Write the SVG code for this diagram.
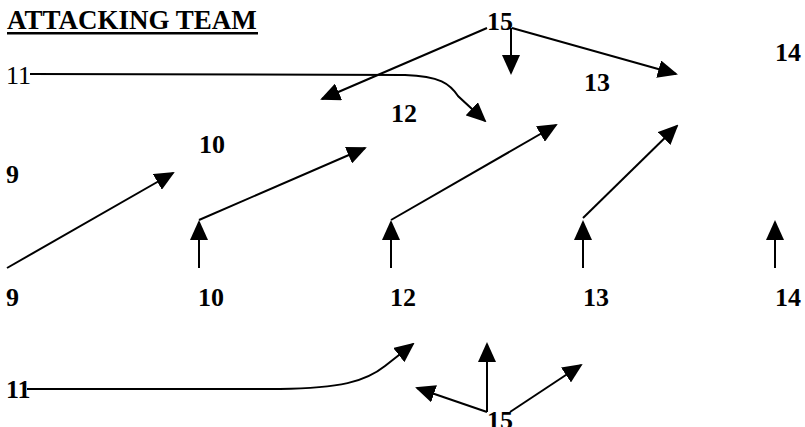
<svg xmlns="http://www.w3.org/2000/svg" width="805" height="427" viewBox="0 0 805 427">
<style>
.t{font-family:"Liberation Serif","Times New Roman",serif;font-size:26px;font-weight:bold;fill:#000}
.r{font-weight:normal}
.c{fill:none;stroke:#000;stroke-width:2}
.a{marker-end:url(#ah)}
</style>
<defs>
<marker id="ah" viewBox="0 0 20 18" markerWidth="20" markerHeight="18" refX="18" refY="9" orient="auto" markerUnits="userSpaceOnUse">
<path d="M0,0 L20,9 L0,18 z" fill="#000"/>
</marker>
</defs>
<rect width="805" height="427" fill="#fff"/>
<g id="title">
<text class="t" x="7" y="29" style="font-size:27px">ATTACKING TEAM</text>
<rect x="7" y="32" width="251" height="2.5" fill="#000"/>
</g>
<g id="top-11"><text class="t r" x="6" y="84">11</text></g>
<g id="top-15"><text class="t" x="487" y="30">15</text></g>
<g id="top-14"><text class="t" x="775" y="61">14</text></g>
<g id="top-13"><text class="t" x="584" y="91">13</text></g>
<g id="top-12"><text class="t" x="391" y="122">12</text></g>
<g id="top-10"><text class="t" x="199" y="153">10</text></g>
<g id="top-9"><text class="t" x="6" y="183">9</text></g>
<g id="bot-9"><text class="t" x="6" y="306">9</text></g>
<g id="bot-10"><text class="t" x="198" y="306">10</text></g>
<g id="bot-12"><text class="t" x="390" y="306">12</text></g>
<g id="bot-13"><text class="t" x="583" y="306">13</text></g>
<g id="bot-14"><text class="t" x="775" y="306">14</text></g>
<g id="bot-11"><text class="t" x="6" y="398">11</text></g>
<g id="bot-15"><text class="t" x="487" y="429">15</text></g>
<g id="connectors">
<path class="c a" d="M30,74 L405,75 C440,76 450,84 458,96 L485,121"/>
<path class="c a" d="M487,28 L322,99"/>
<path class="c a" d="M511,28 L511,73"/>
<path class="c a" d="M512,28 L676,74"/>
<path class="c a" d="M7,268 L173,173"/>
<path class="c a" d="M199,268 L199,222"/>
<path class="c a" d="M199,220 L365,148"/>
<path class="c a" d="M391,268 L391,222"/>
<path class="c a" d="M391,220 L556,125"/>
<path class="c a" d="M583,268 L583,222"/>
<path class="c a" d="M583,218 L677,126"/>
<path class="c a" d="M775,268 L775,222"/>
<path class="c a" d="M27,389 L280,389 C340,388 365,382 385,366 L413,344"/>
<path class="c a" d="M487,412 L487,344"/>
<path class="c a" d="M487,412 L417,388"/>
<path class="c a" d="M510,412 L581,365"/>
</g>
</svg>
